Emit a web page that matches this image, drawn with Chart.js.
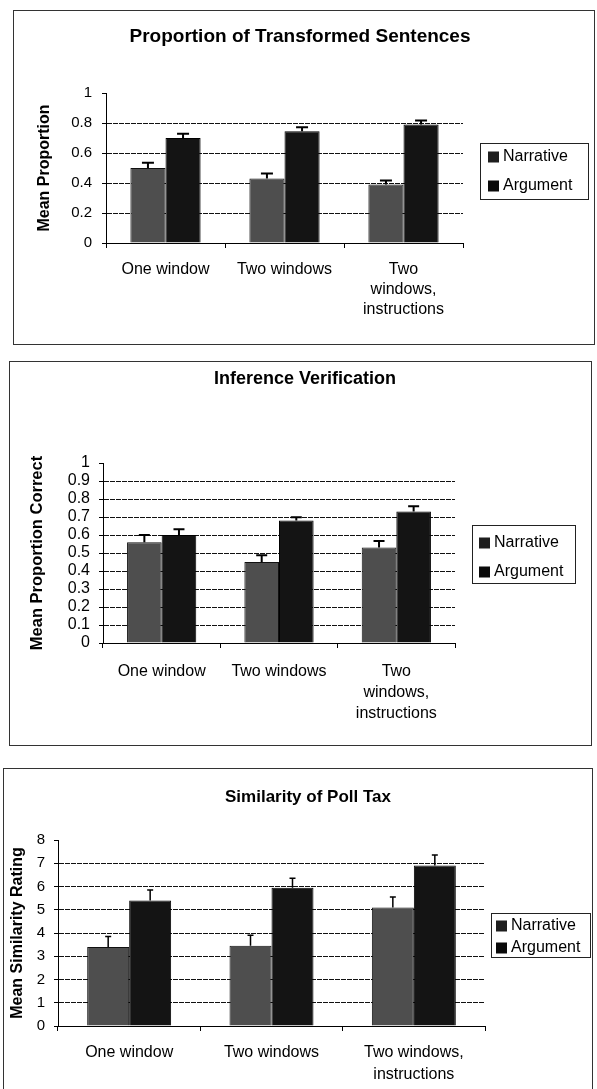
<!DOCTYPE html>
<html><head><meta charset="utf-8">
<script src="https://cdn.jsdelivr.net/npm/chart.js@4.4.0/dist/chart.umd.min.js"></script>
<style>
html,body{margin:0;padding:0;background:#fff;overflow:hidden;width:597px;height:1089px;position:relative;}
canvas{position:absolute;left:0;}
.frame{position:absolute;border:1px solid #333;box-sizing:border-box;pointer-events:none;z-index:2;}
</style></head><body>
<div class="frame" style="left:13px;top:10px;width:582px;height:335px"></div>
<div class="frame" style="left:9px;top:361px;width:583px;height:385px"></div>
<div class="frame" style="left:3px;top:768px;width:590px;height:330px"></div>
<canvas id="c1" width="600" height="335" style="top:10px"></canvas>
<canvas id="c2" width="610" height="384" style="top:361px"></canvas>
<canvas id="c3" width="616" height="321" style="top:768px"></canvas>
<script>
// ---------- data ----------
const seriesNames = ['Narrative', 'Argument'];

const title1 = 'Proportion of Transformed Sentences';
const yTitle1 = 'Mean Proportion';
const categories1 = ['One window', 'Two windows', ['Two', 'windows,', 'instructions']];
const narrative1 = [0.50, 0.43, 0.39];
const argument1 = [0.70, 0.745, 0.79];
const narrativeErr1 = [0.035, 0.033, 0.027];
const argumentErr1 = [0.029, 0.027, 0.027];
const yTicks1 = [0, 0.2, 0.4, 0.6, 0.8, 1];

const title2 = 'Inference Verification';
const yTitle2 = 'Mean Proportion Correct';
const categories2 = ['One window', 'Two windows', ['Two', 'windows,', 'instructions']];
const narrative2 = [0.56, 0.45, 0.53];
const argument2 = [0.60, 0.68, 0.73];
const narrativeErr2 = [0.04, 0.037, 0.037];
const argumentErr2 = [0.032, 0.018, 0.03];
const yTicks2 = [0, 0.1, 0.2, 0.3, 0.4, 0.5, 0.6, 0.7, 0.8, 0.9, 1];

const title3 = 'Similarity of Poll Tax';
const yTitle3 = 'Mean Similarity Rating';
const categories3 = ['One window', 'Two windows', ['Two windows,', 'instructions']];
const narrative3 = [3.4, 3.45, 5.1];
const argument3 = [5.4, 5.95, 6.9];
const narrativeErr3 = [0.45, 0.45, 0.45];
const argumentErr3 = [0.45, 0.4, 0.45];
const yTicks3 = [0, 1, 2, 3, 4, 5, 6, 7, 8];

// ---------- style ----------
const FONT = '"Liberation Sans", Arial, Helvetica, sans-serif';
Chart.defaults.font.family = FONT;
Chart.defaults.color = '#000';
const NARR_COLOR = '#4e4e4e';
const ARG_COLOR = '#141414';

const errorBarPlugin = {
  id: 'errorBars',
  afterDatasetsDraw(chart, args, o) {
    const ctx = chart.ctx, ys = chart.scales.y;
    ctx.save();
    ctx.strokeStyle = '#000';
    ctx.lineWidth = o.lineWidth;
    chart.data.datasets.forEach((ds, i) => {
      const meta = chart.getDatasetMeta(i);
      meta.data.forEach((bar, j) => {
        const top = ys.getPixelForValue(ds.data[j] + ds.errors[j]);
        ctx.beginPath();
        ctx.moveTo(bar.x, bar.y);
        ctx.lineTo(bar.x, top);
        ctx.moveTo(bar.x - o.cap / 2, top);
        ctx.lineTo(bar.x + o.cap / 2, top);
        ctx.stroke();
      });
    });
    ctx.restore();
  }
};

const boxLegendPlugin = {
  id: 'boxLegend',
  afterDraw(chart, args, o) {
    const ctx = chart.ctx;
    ctx.save();
    ctx.fillStyle = '#fff';
    ctx.fillRect(o.x, o.y, o.w, o.h);
    ctx.strokeStyle = '#222';
    ctx.lineWidth = 1;
    ctx.strokeRect(o.x + 0.5, o.y + 0.5, o.w, o.h);
    ctx.font = o.fontSize + 'px ' + FONT;
    ctx.textBaseline = 'middle';
    chart.data.datasets.forEach((ds, i) => {
      const cy = o.firstY + i * o.rowH;
      ctx.fillStyle = ds.legendColor;
      ctx.fillRect(o.swatchX, cy - o.sw / 2, o.sw, o.sw);
      ctx.fillStyle = '#000';
      ctx.fillText(ds.label, o.textX, cy);
    });
    ctx.restore();
  }
};

function makeChart(id, p) {
  const yMin = p.yTicks[0], yMax = p.yTicks[p.yTicks.length - 1];
  return new Chart(document.getElementById(id), {
    type: 'bar',
    data: {
      labels: p.categories,
      datasets: [
        { label: seriesNames[0], data: p.narrative, errors: p.narrErr, backgroundColor: NARR_COLOR, legendColor: '#1e1e1e',
          borderColor: '#111', borderWidth: 1, categoryPercentage: 0.59, barPercentage: 1.0 },
        { label: seriesNames[1], data: p.argument, errors: p.argErr, backgroundColor: ARG_COLOR, legendColor: '#0a0a0a',
          borderColor: '#000', borderWidth: 1, categoryPercentage: 0.59, barPercentage: 1.0 }
      ]
    },
    options: {
      responsive: false, animation: false, devicePixelRatio: 1,
      layout: { padding: 0 },
      events: [],
      plugins: {
        legend: { display: false },
        tooltip: { enabled: false },
        title: { display: true, text: p.title, color: '#000',
          font: { size: p.titleSize, weight: 'bold', lineHeight: 1.2 },
          padding: { top: p.titlePadTop, bottom: p.titlePadBottom } },
        errorBars: p.err,
        boxLegend: p.legend
      },
      scales: {
        x: {
          grid: { display: true, drawOnChartArea: false, drawTicks: true, tickLength: 5, color: '#000', offset: true },
          border: { display: true, color: '#000', width: 1 },
          ticks: { color: '#000', font: { size: p.xFont, lineHeight: p.xLine }, padding: p.xPad,
            maxRotation: 0, minRotation: 0, autoSkip: false },
          afterFit: s => { s.height = p.xH; }
        },
        y: {
          min: yMin, max: yMax,
          afterBuildTicks: s => { s.ticks = p.yTicks.map(v => ({ value: v })); },
          grid: {
            color: c => (c.tick && (c.tick.value === yMin || c.tick.value === yMax)) ? 'rgba(0,0,0,0)' : '#111',
            tickColor: '#000', tickLength: 4, lineWidth: 1
          },
          border: { display: true, color: '#000', width: 1, dash: [5, 1] },
          ticks: { color: '#000', font: { size: p.yFont }, padding: p.yPad, autoSkip: false,
            callback: v => String(v) },
          title: { display: true, text: p.yTitle, color: '#000',
            font: { size: p.yTitleSize, weight: 'bold', lineHeight: 1.2 },
            padding: { top: p.yTitlePad, bottom: 0 } },
          afterFit: s => { s.width = p.yW; }
        },
        yr: {
          type: 'linear', position: 'right', display: true,
          grid: { display: false }, border: { display: false }, ticks: { display: false },
          afterFit: s => { s.width = p.rightW; }
        }
      }
    },
    plugins: [errorBarPlugin, boxLegendPlugin]
  });
}

// Panel 1 (canvas top = 10)
makeChart('c1', {
  title: title1, yTitle: yTitle1, categories: categories1,
  narrative: narrative1, argument: argument1, narrErr: narrativeErr1, argErr: argumentErr1, yTicks: yTicks1,
  titleSize: 19, titlePadTop: 15.6, titlePadBottom: 44.6,
  yW: 106, yFont: 15, yPad: 10, yTitleSize: 16, yTitlePad: 35,
  rightW: 600 - 463,
  xH: 335 - 233, xFont: 16, xLine: 1.25, xPad: 12,
  err: { lineWidth: 2, cap: 12 },
  legend: { x: 480, y: 133, w: 108, h: 56, swatchX: 488, sw: 11, textX: 503, firstY: 147, rowH: 29, fontSize: 16 }
});

// Panel 2 (canvas top = 361)
makeChart('c2', {
  title: title2, yTitle: yTitle2, categories: categories2,
  narrative: narrative2, argument: argument2, narrErr: narrativeErr2, argErr: argumentErr2, yTicks: yTicks2,
  titleSize: 18, titlePadTop: 7.2, titlePadBottom: 73.2,
  yW: 103, yFont: 16, yPad: 9, yTitleSize: 16.5, yTitlePad: 28,
  rightW: 610 - 455,
  xH: 384 - 282, xFont: 16, xLine: 1.31, xPad: 13.5,
  err: { lineWidth: 2, cap: 11 },
  legend: { x: 472, y: 164, w: 103, h: 58, swatchX: 479, sw: 11, textX: 494, firstY: 182, rowH: 29, fontSize: 16 }
});

// Panel 3 (canvas top = 768)
makeChart('c3', {
  title: title3, yTitle: yTitle3, categories: categories3,
  narrative: narrative3, argument: argument3, narrErr: narrativeErr3, argErr: argumentErr3, yTicks: yTicks3,
  titleSize: 17, titlePadTop: 18.8, titlePadBottom: 32.8,
  yW: 58, yFont: 15, yPad: 9, yTitleSize: 16, yTitlePad: 8,
  rightW: 616 - 485,
  xH: 321 - 258, xFont: 16, xLine: 1.375, xPad: 11,
  err: { lineWidth: 1.5, cap: 6 },
  legend: { x: 491, y: 145, w: 99, h: 44, swatchX: 496, sw: 11, textX: 511, firstY: 158, rowH: 22, fontSize: 16 }
});
</script>
</body></html>
